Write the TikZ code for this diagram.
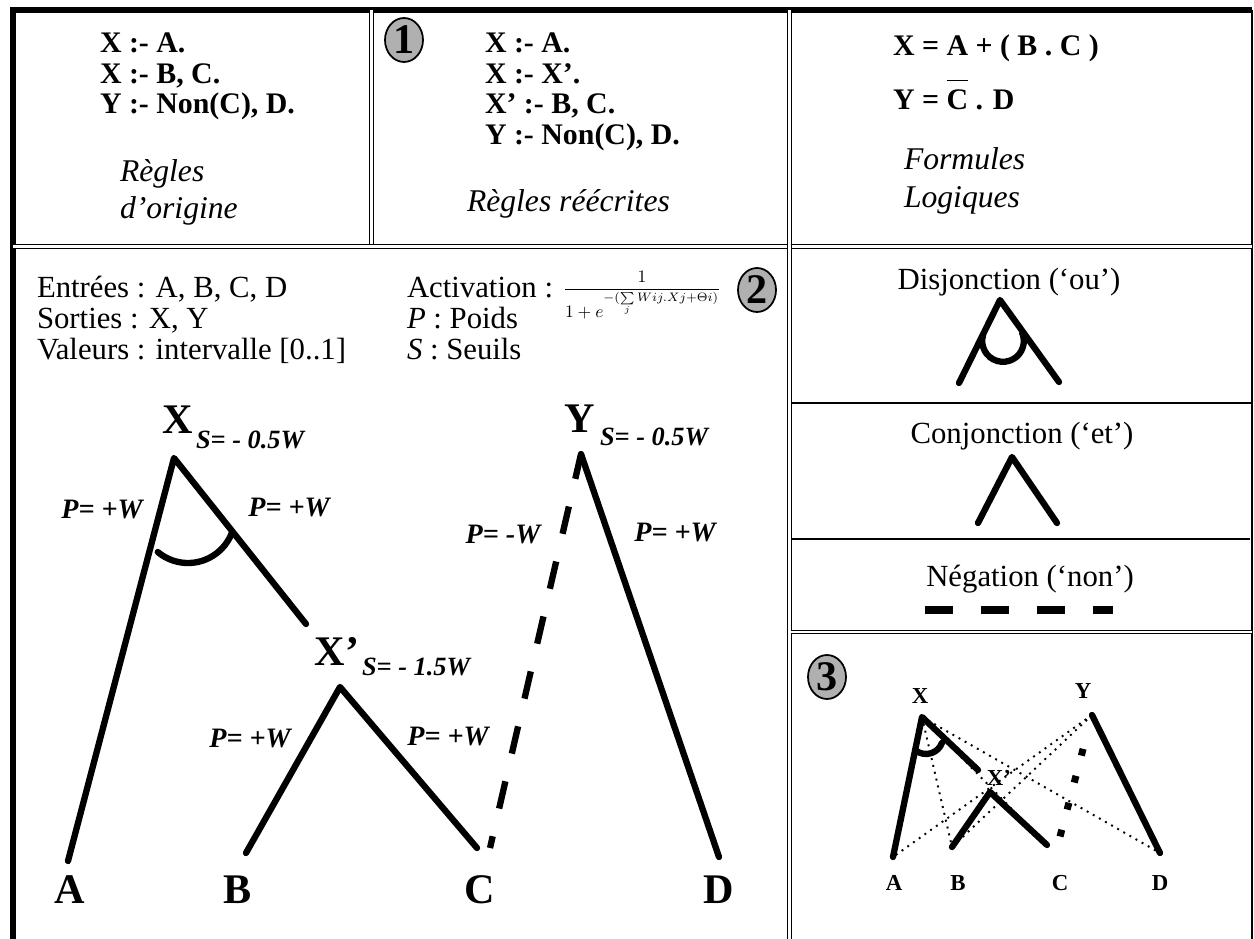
\documentclass[tikz,border=0pt]{standalone}
\usepackage{amsmath,amssymb}
\usepackage{fontspec}
\setmainfont{Liberation Serif}
\usepackage{tikz}
\usetikzlibrary{shapes.geometric,positioning,calc}
\definecolor{circgray}{RGB}{176,176,176}

\begin{document}
\begin{tikzpicture}[x=0.02cm, y=-0.02cm,
    every node/.style={inner sep=0pt, outer sep=0pt},
    rule/.style={anchor=base west, font=\fontsize{17}{20}\selectfont\bfseries},
    caption/.style={anchor=base west, font=\fontsize{18}{21}\selectfont\itshape},
    info/.style={anchor=base west, font=\fontsize{17.5}{20}\selectfont},
    legend/.style={anchor=base, font=\fontsize{17.5}{20}\selectfont},
    bignode/.style={anchor=base, font=\fontsize{24}{28}\selectfont\bfseries},
    smallnode/.style={anchor=base, font=\fontsize{13}{15}\selectfont\bfseries},
    thresh/.style={anchor=base west, font=\fontsize{15}{18}\selectfont\bfseries\itshape},
    weight/.style={anchor=base, font=\fontsize{16}{19}\selectfont\bfseries\itshape},
    numcirc/.style={ellipse, draw, line width=1pt, fill=circgray, minimum width=0.76cm,
        minimum height=0.88cm, font=\fontsize{24}{26}\selectfont\bfseries},
    link/.style={line width=3.6pt, line cap=round, line join=round},
    neglink/.style={line width=3.6pt, dash pattern=on 15.9pt off 16.2pt, dash phase=1.4pt},
    negsmall/.style={line width=4pt, dash pattern=on 3.97pt off 11.9pt},
    extra/.style={line width=1.1pt, dash pattern=on 1.1pt off 2.9pt},
    dbl/.style={double, double distance=1.3pt, line width=0.5pt},
    thin line/.style={line width=0.8pt}]

    \useasboundingbox (0,0) rectangle (1254,939);

    % cadre
    \draw[line width=3pt] (13,939) -- (13,10) -- (1252,10);
    \draw[thin line] (1252,10) -- (1252,939);
    \draw[dbl] (371.5,10) -- (371.5,246.5);
    \draw[dbl] (13,246.5) -- (1252,246.5);
    \draw[dbl] (789.5,10) -- (789.5,939);
    \draw[thin line] (791,403) -- (1252,403);
    \draw[thin line] (791,539) -- (1250,539);
    \draw[dbl] (791,632) -- (1252,632);

    % regles d'origine
    \node[rule] (r1) at (100,53) {X :- A.};
    \node[rule] (r2) at (100,83.5) {X :- B, C.};
    \node[rule] (r3) at (100,114) {Y :- Non(C), D.};
    \node[caption] (cap1) at (120,182) {Règles};
    \node[caption] (cap2) at (120,219) {d’origine};

    % regles reecrites
    \node[numcirc] (n1) at (404,40) {1};
    \node[rule] (s1) at (485,53) {X :- A.};
    \node[rule] (s2) at (485,83.5) {X :- X’.};
    \node[rule] (s3) at (485,114) {X’ :- B, C.};
    \node[rule] (s4) at (485,144.5) {Y :- Non(C), D.};
    \node[caption] (cap3) at (467,212) {Règles réécrites};

    % formules
    \node[rule] (f1) at (893,56) {X = A + ( B . C )};
    \node[rule] (f2) at (893,110) {Y = $\overline{\rule{0pt}{14.5pt}\mbox{\bfseries C}}$ . D};
    \node[caption] (cap4) at (904,170) {Formules};
    \node[caption] (cap5) at (904,208) {Logiques};

    % reseau
    \node[info] (in) at (37,297) {Entrées : A, B, C, D};
    \node[info] (out) at (37,328) {Sorties : X, Y};
    \node[info] (val) at (37,359) {Valeurs : intervalle [0..1]};
    \node[info] (act) at (407,297) {Activation :};
    \node[anchor=base, font=\fontsize{10}{12}\selectfont] (sig) at (642,294)
        {$\displaystyle\frac{1}{1+e^{-(\sum\limits_{j} Wij.Xj+\Theta i)}}$};
    \node[info] (poids) at (407,328) {\textit{P} : Poids};
    \node[info] (seuils) at (407,359) {\textit{S} : Seuils};
    \node[numcirc] (n2) at (757,290) {2};

    \node[bignode] (X) at (178,433) {X};
    \node[thresh] (Xs) at (196,448) {S= - 0.5W};
    \node[bignode] (Y) at (580,432) {Y};
    \node[thresh] (Ys) at (600,445) {S= - 0.5W};
    \node[bignode] (Xp) at (337,665) {X’};
    \node[thresh] (Xps) at (362,675) {S= - 1.5W};
    \node[bignode] (A) at (70,903) {A};
    \node[bignode] (B) at (238,903) {B};
    \node[bignode] (C) at (480,903) {C};
    \node[bignode] (D) at (719,903) {D};

    \coordinate (xa) at (174,458);
    \coordinate (a) at (68,861);
    \coordinate (xe) at (306,624);
    \coordinate (xpa) at (340,687);
    \coordinate (b) at (246,853);
    \coordinate (c) at (477,848);
    \coordinate (cn) at (490,848);
    \coordinate (ya) at (581,454);
    \coordinate (d) at (719,857);
    \coordinate (xo) at (188,516);

    \draw[link] (a) -- (xa) -- (xe);
    \draw[link] ($(xo)+(130:47)$) arc[start angle=130, end angle=20, radius=47];
    \draw[link] (b) -- (xpa) -- (c);
    \draw[link] (ya) -- (d);
    \draw[neglink] (ya) -- (cn);

    \node[weight] (w1) at (102,518) {P= +W};
    \node[weight] (w2) at (289,516) {P= +W};
    \node[weight] (w3) at (503,543) {P= -W};
    \node[weight] (w4) at (675,541) {P= +W};
    \node[weight] (w5) at (250,747) {P= +W};
    \node[weight] (w6) at (448,745) {P= +W};

    % legende
    \node[legend] (ou) at (1009,290) {Disjonction (‘ou’)};
    \coordinate (oa) at (1000,300);
    \coordinate (ol) at (959,383);
    \coordinate (or) at (1059,382);
    \coordinate (oo) at (1003,341);
    \draw[link] (ol) -- (oa) -- (or);
    \draw[link] ($(oo)+(196.7:20.8)$) arc[start angle=196.7, end angle=-22.8, radius=20.8];

    \node[legend] (et) at (1022,443) {Conjonction (‘et’)};
    \coordinate (ea) at (1012,457);
    \coordinate (el) at (978,523);
    \coordinate (er) at (1057,523);
    \draw[link] (el) -- (ea) -- (er);

    \node[legend] (non) at (1030,586) {Négation (‘non’)};
    \coordinate (nl) at (925,610);
    \coordinate (nr) at (1113,610);
    \draw[line width=4pt, dash pattern=on 15.9pt off 15.9pt] (nl) -- (nr);

    % reseau appris
    \node[numcirc] (n3) at (827,677) {3};
    \node[smallnode] (sX) at (920,703) {X};
    \node[smallnode] (sY) at (1083,698) {Y};
    \node[smallnode] (sXp) at (999,785) {X’};
    \node[smallnode] (sA) at (894,890) {A};
    \node[smallnode] (sB) at (958,890) {B};
    \node[smallnode] (sC) at (1060,890) {C};
    \node[smallnode] (sD) at (1160,890) {D};

    \coordinate (sxa) at (922,717);
    \coordinate (sa) at (893,857);
    \coordinate (sxe) at (978,770);
    \coordinate (sxpa) at (990,792);
    \coordinate (sb) at (952,847);
    \coordinate (sc) at (1047,845);
    \coordinate (scn) at (1057,848);
    \coordinate (sya) at (1092,715);
    \coordinate (sd) at (1160,853);
    \coordinate (sxo) at (926,737);

    \draw[extra] (sxa) -- (sb);
    \draw[extra] (sxa) -- (sc);
    \draw[extra] (sxa) -- (sd);
    \draw[extra] (sya) -- (sa);
    \draw[extra] (sya) -- (sb);
    \draw[link] (sa) -- (sxa) -- (sxe);
    \draw[link] ($(sxo)+(130:17)$) arc[start angle=130, end angle=20, radius=17];
    \draw[link] (sb) -- (sxpa) -- (sc);
    \draw[link] (sya) -- (sd);
    \draw[negsmall] ($(sya)!0.2545!(scn)$) -- ($(sya)!0.92!(scn)$);
\end{tikzpicture}
\end{document}
